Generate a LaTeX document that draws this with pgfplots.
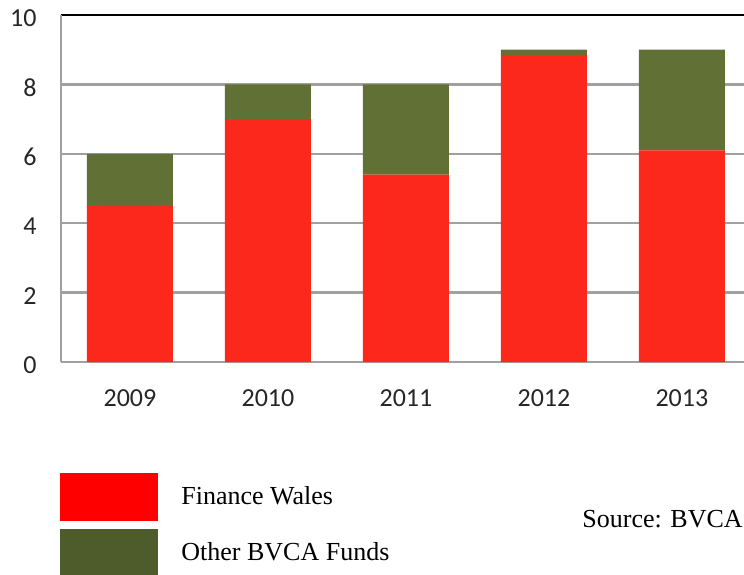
\documentclass[border=0pt]{standalone}
\usepackage{pgfplots}
\pgfplotsset{compat=1.18}
\usepackage{fontspec}
\setmainfont{Liberation Serif}
\newfontfamily\calibri{Carlito}
\definecolor{barred}{RGB}{252,40,28}
\definecolor{bargreen}{RGB}{97,113,54}
\definecolor{legred}{RGB}{255,0,0}
\definecolor{leggreen}{RGB}{78,91,42}
\definecolor{gridgray}{RGB}{160,160,160}
\begin{document}
\begin{tikzpicture}
\begin{axis}[name=ax, scale only axis, width=341.5pt, height=173.5pt,
  xmin=-0.5, xmax=4.45, ymin=0, ymax=10, enlargelimits=false,
  ybar stacked, bar width=43pt,
  xtick={0,1,2,3,4}, xticklabels={2009,2010,2011,2012,2013},
  ytick={0,2,4,6,8,10},
  ymajorgrids, grid style={gridgray, line width=1.2pt},
  major tick length=0pt,
  axis line style={draw=none},
  clip=false,
  tick label style={font=\fontsize{13}{15}\calibri, text=black!85},
  /pgf/number format/assume math mode=true,
  yticklabel style={inner sep=0pt, xshift=-12pt, yshift=-1.5pt},
  xticklabel style={inner sep=0pt, anchor=north, yshift=-13.5pt},
  legend style={draw=none, fill=none, at={(0,0)}, anchor=north west,
    xshift=-0.5pt, yshift=-55.5pt, inner sep=0pt, row sep=4pt,
    column sep=11.5pt, font=\fontsize{13}{15}\selectfont,
    nodes={inner sep=0pt}},
  legend cell align=left,
]
\addplot[fill=barred, draw=none,
  legend image code/.code={\fill[legred] (0pt,-12pt) rectangle (49pt,12pt);}]
  coordinates {(0,4.5) (1,7.0) (2,5.4) (3,8.85) (4,6.1)};
\addlegendentry{Finance Wales}
\addplot[fill=bargreen, draw=none,
  legend image code/.code={\fill[leggreen] (0pt,-12pt) rectangle (49pt,12pt);}]
  coordinates {(0,1.5) (1,1.0) (2,2.6) (3,0.15) (4,2.9)};
\addlegendentry{Other BVCA Funds}
\draw[gridgray, line width=1.2pt] (rel axis cs:0,0) -- (rel axis cs:0,1);
\draw[gridgray, line width=1.2pt] (rel axis cs:0,0) -- (rel axis cs:1,0);
\draw[black, line width=1.1pt] (rel axis cs:0,1) -- (rel axis cs:1,1);
\node[anchor=west, inner sep=0pt, font=\fontsize{13}{15}\selectfont] at (rel axis cs:0.7628,-0.4524) {Source: BVCA};
\end{axis}
\pgfresetboundingbox
\path ([shift={(-30.5pt,-106pt)}]ax.south west) rectangle ([shift={(0pt,7.5pt)}]ax.north east);
\end{tikzpicture}
\end{document}
